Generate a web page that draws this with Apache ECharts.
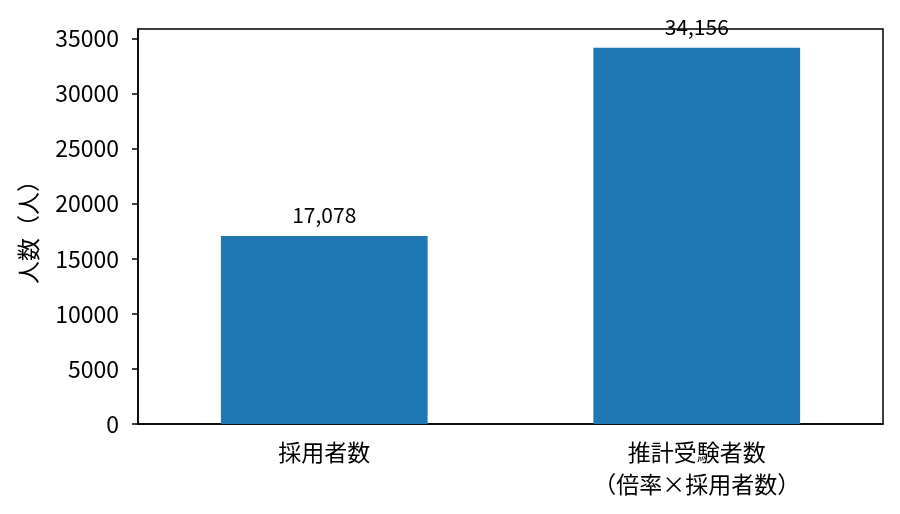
<!DOCTYPE html>
<html>
<head>
<meta charset="utf-8">
<script src="https://cdn.jsdelivr.net/npm/echarts@6/dist/echarts.min.js"></script>
<style>
  html, body { margin: 0; padding: 0; background: #fff; }
  #chart-container { width: 900px; height: 514px; }
</style>
</head>
<body>
<div id="chart-container"></div>
<script>
var categories = ['採用者数', '推計受験者数\n（倍率×採用者数）'];
var people = [17078, 34156];
var valueLabels = ['17,078', '34,156'];
var yTicks = [0, 5000, 10000, 15000, 20000, 25000, 30000, 35000];

var dom = document.getElementById('chart-container');
var myChart = echarts.init(dom, null, { renderer: 'canvas' });
var font = 'Noto Sans CJK JP';

var option = {
  animation: false,
  textStyle: { fontFamily: font },
  grid: {
    left: 138, right: 17, top: 29, bottom: 90,
    show: true, borderColor: '#000', borderWidth: 1.5
  },
  xAxis: {
    type: 'category',
    data: categories,
    axisLine: { lineStyle: { color: '#000', width: 1.5 } },
    axisTick: { alignWithLabel: true, length: 6, lineStyle: { color: '#000', width: 1.5 } },
    axisLabel: { color: '#000', fontSize: 23, fontFamily: font, margin: 12, lineHeight: 32 }
  },
  yAxis: {
    type: 'value',
    min: 0,
    max: 35864,
    interval: 5000,
    name: '人数（人）',
    nameLocation: 'middle',
    nameRotate: 90,
    nameGap: 98,
    nameTextStyle: { color: '#000', fontSize: 23, fontFamily: font },
    splitLine: { show: false },
    axisLine: { show: true, lineStyle: { color: '#000', width: 1.5 } },
    axisTick: { show: true, length: 6, lineStyle: { color: '#000', width: 1.5 } },
    axisLabel: {
      color: '#000', fontSize: 23, fontFamily: font, margin: 19,
      showMaxLabel: false,
      formatter: function (v) { return yTicks.indexOf(v) >= 0 ? String(v) : ''; }
    }
  },
  series: [{
    type: 'bar',
    data: people,
    barWidth: '55.5%',
    itemStyle: { color: '#1f77b4' },
    label: {
      show: true,
      position: 'top',
      distance: 10,
      color: '#000',
      fontSize: 21,
      fontFamily: font,
      formatter: function (p) { return valueLabels[p.dataIndex]; }
    }
  }]
};

myChart.setOption(option);
window.addEventListener('resize', myChart.resize);
</script>
</body>
</html>
